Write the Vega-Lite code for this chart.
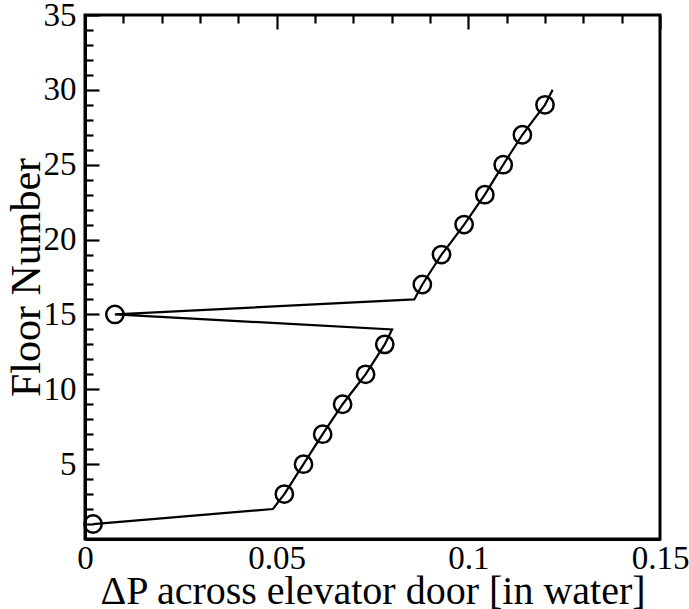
{
  "$schema": "https://vega.github.io/schema/vega-lite/v6.json",
  "width": 575,
  "height": 524,
  "autosize": "none",
  "padding": {"left": 85, "top": 15, "right": 29, "bottom": 70},
  "background": "white",
  "config": {
    "view": {"stroke": "black", "strokeWidth": 3},
    "font": "Liberation Serif",
    "axis": {"labelColor": "black", "titleColor": "black", "domainColor": "black", "titleFontWeight": "normal", "gridColor": "black", "gridOpacity": 1}
  },
  "data": {
    "values": [
      {"floor": 1, "dp": 0.0021},
      {"floor": 2, "dp": 0.049},
      {"floor": 3, "dp": 0.052},
      {"floor": 4, "dp": 0.0545},
      {"floor": 5, "dp": 0.057},
      {"floor": 6, "dp": 0.0595},
      {"floor": 7, "dp": 0.062},
      {"floor": 8, "dp": 0.0646},
      {"floor": 9, "dp": 0.0672},
      {"floor": 10, "dp": 0.0702},
      {"floor": 11, "dp": 0.0732},
      {"floor": 12, "dp": 0.0757},
      {"floor": 13, "dp": 0.0782},
      {"floor": 14, "dp": 0.0801},
      {"floor": 15, "dp": 0.0078},
      {"floor": 16, "dp": 0.0859},
      {"floor": 17, "dp": 0.088},
      {"floor": 18, "dp": 0.0905},
      {"floor": 19, "dp": 0.093},
      {"floor": 20, "dp": 0.096},
      {"floor": 21, "dp": 0.0989},
      {"floor": 22, "dp": 0.1016},
      {"floor": 23, "dp": 0.1043},
      {"floor": 24, "dp": 0.1067},
      {"floor": 25, "dp": 0.1091},
      {"floor": 26, "dp": 0.1116},
      {"floor": 27, "dp": 0.1141},
      {"floor": 28, "dp": 0.117},
      {"floor": 29, "dp": 0.12},
      {"floor": 30, "dp": 0.122}
    ]
  },
  "encoding": {
    "x": {
      "field": "dp", "type": "quantitative",
      "scale": {"domain": [0, 0.15], "nice": false, "zero": false},
      "axis": {
        "values": [0, 0.01, 0.02, 0.03, 0.04, 0.05, 0.06, 0.07, 0.08, 0.09, 0.1, 0.11, 0.12, 0.13, 0.14, 0.15],
        "labelExpr": "round(datum.value * 100) % 5 == 0 ? format(datum.value, '~g') : ''",
        "ticks": false,
        "grid": true,
        "gridWidth": 2.2,
        "gridDash": {"condition": {"test": "round(datum.value * 100) % 5 == 0", "value": [14, 2000]}, "value": [8, 2000]},
        "domainWidth": 3,
        "labelFontSize": 33, "labelPadding": 3, "labelFlush": false, "labelOverlap": false,
        "title": "ΔP across elevator door [in water]",
        "titleFontSize": 40, "titlePadding": -4
      }
    },
    "y": {
      "field": "floor", "type": "quantitative",
      "scale": {"domain": [0, 35], "nice": false},
      "axis": {
        "values": [1, 2, 3, 4, 5, 6, 7, 8, 9, 10, 11, 12, 13, 14, 15, 16, 17, 18, 19, 20, 21, 22, 23, 24, 25, 26, 27, 28, 29, 30, 31, 32, 33, 34, 35],
        "labelExpr": "datum.value % 5 == 0 ? format(datum.value, 'd') : ''",
        "ticks": false,
        "grid": true,
        "gridWidth": 2.2,
        "gridDash": {"condition": {"test": "datum.value % 5 == 0", "value": [14, 2000]}, "value": [8, 2000]},
        "domainWidth": 3,
        "labelFontSize": 33, "labelPadding": 9, "labelFlush": false, "labelOverlap": false,
        "title": "Floor Number",
        "titleFontSize": 42, "titlePadding": -5
      }
    }
  },
  "layer": [
    {
      "mark": {"type": "line", "color": "black", "strokeWidth": 2.2},
      "encoding": {
        "order": {"field": "floor", "type": "quantitative"}
      }
    },
    {
      "transform": [{"filter": "datum.floor % 2 == 1"}],
      "mark": {"type": "point", "shape": "circle", "filled": false, "color": "black", "strokeWidth": 2.5, "size": 300, "opacity": 1}
    }
  ]
}
